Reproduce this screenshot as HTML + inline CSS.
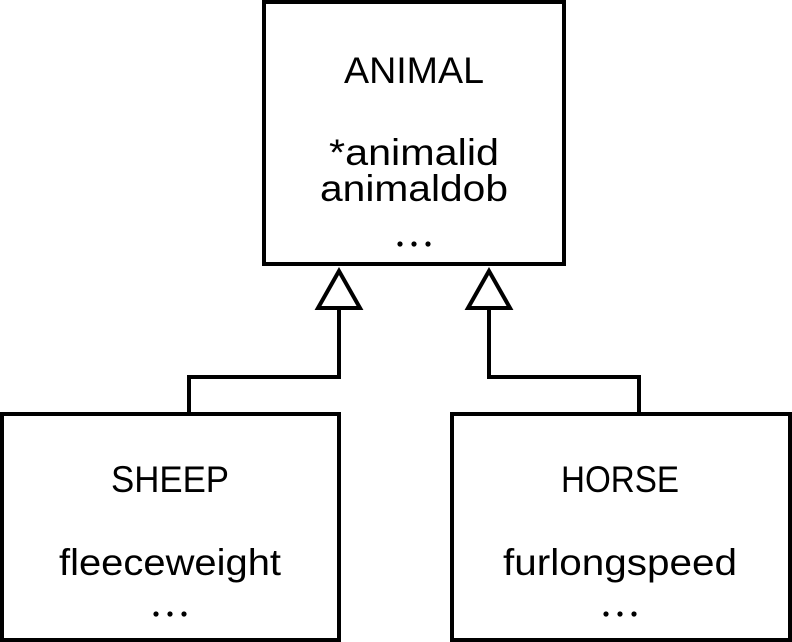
<!DOCTYPE html>
<html><head><meta charset="utf-8"><style>html,body{margin:0;padding:0;background:#fff}svg{display:block}</style></head>
<body>
<svg width="792" height="642" viewBox="0 0 792 642" xmlns="http://www.w3.org/2000/svg">
<g fill="none" stroke="#000" stroke-width="4">
<rect x="264" y="2" width="300" height="262"/>
<rect x="2" y="414" width="337" height="226"/>
<rect x="452" y="414" width="338" height="226"/>
<polyline points="189,414 189,377 339,377 339,308"/>
<polyline points="639,414 639,377 489,377 489,308"/>
<polygon points="339,271 318,308 360,308"/>
<polygon points="489,271 468,308 510,308"/>
</g>
<g font-family="Liberation Sans, sans-serif" font-size="37" text-anchor="middle" fill="#000">
<text x="414" y="83" textLength="140" lengthAdjust="spacingAndGlyphs">ANIMAL</text>
<text x="414" y="165" textLength="170" lengthAdjust="spacingAndGlyphs">*animalid</text>
<text x="414" y="201" textLength="188" lengthAdjust="spacingAndGlyphs">animaldob</text>
<text x="170" y="492" textLength="118" lengthAdjust="spacingAndGlyphs">SHEEP</text>
<text x="170" y="575" textLength="222" lengthAdjust="spacingAndGlyphs">fleeceweight</text>
<text x="620" y="492" textLength="118" lengthAdjust="spacingAndGlyphs">HORSE</text>
<text x="620" y="575" textLength="234" lengthAdjust="spacingAndGlyphs">furlongspeed</text>
</g>
<g fill="#000">
<circle cx="400" cy="244" r="2.6"/><circle cx="414" cy="244" r="2.6"/><circle cx="428" cy="244" r="2.6"/>
<circle cx="156" cy="614" r="2.6"/><circle cx="170" cy="614" r="2.6"/><circle cx="184" cy="614" r="2.6"/>
<circle cx="606" cy="614" r="2.6"/><circle cx="620" cy="614" r="2.6"/><circle cx="634" cy="614" r="2.6"/>
</g>
</svg>
</body></html>
